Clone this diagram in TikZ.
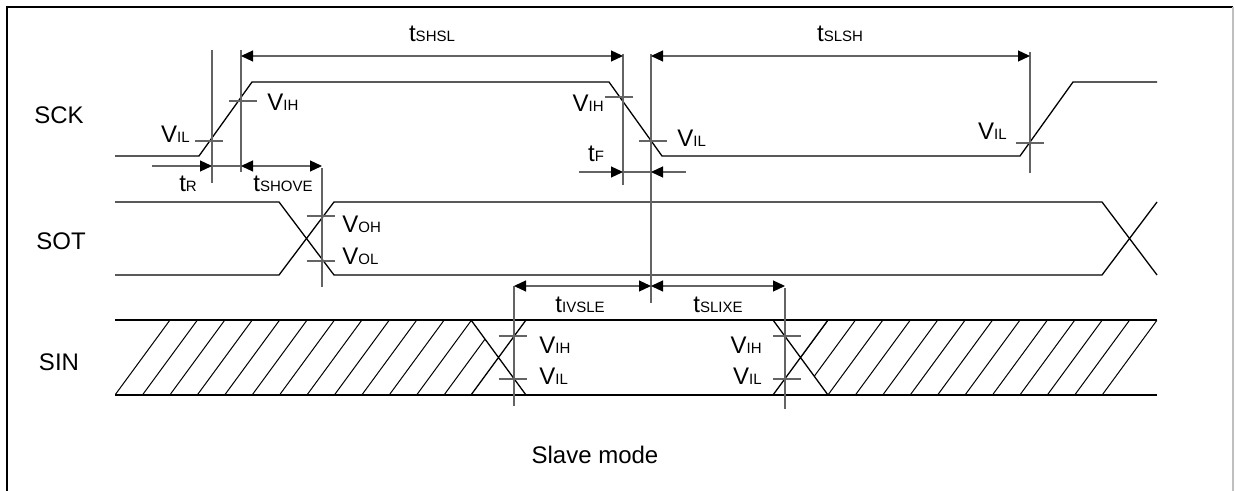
\documentclass[tikz,border=0pt]{standalone}
\usepackage{fontspec}
\setmainfont{Liberation Sans}
\usepackage{xcolor}
\usetikzlibrary{arrows.meta}
\definecolor{mkgray}{RGB}{100,100,100}
\newcommand{\lo}[1]{{\fontsize{7.5}{8}\selectfont #1}}
\newcommand{\Vs}[1]{V\lo{#1}}
\newcommand{\ts}[1]{t\lo{#1}}

\begin{document}
\begin{tikzpicture}[x=0.5pt,y=-0.5pt,font=\fontsize{12}{14}\selectfont,
    sig/.style={line width=0.65pt},
    refl/.style={mkgray,line width=0.6pt},
    dimline/.style={mkgray,line width=0.6pt},
    >={Triangle[length=6pt,width=5.5pt,black]}]
  \useasboundingbox (0,0) rectangle (1235,491);
  \draw[line width=1.3pt] (7,495) -- (7,7) -- (1233,7);
  \draw[gray!50,line width=0.6pt] (1233,7) -- (1233,495);

  \node[anchor=base] (sck) at (59,124) {SCK};
  \node[anchor=base] (sot) at (61,250) {SOT};
  \node[anchor=base] (sin) at (59,370) {SIN};

  % waveforms
  \draw[sig] (115,156) -- (199,156) -- (252,82) -- (609,82) -- (662,156) -- (1020,156) -- (1073,82) -- (1157,82);
  \draw[sig] (115,202) -- (279,202) -- (334,275) -- (1102,275) -- (1157,202);
  \draw[sig] (115,275) -- (279,275) -- (334,202) -- (1102,202) -- (1157,275);
  \draw[sig] (115,320) -- (1157,320) (115,395) -- (1157,395);
  \draw[sig] (471,320) -- (526,395) (471,395) -- (526,320) (773,320) -- (828,395) (773,395) -- (828,320);
  \begin{scope}
    \clip (115,320) -- (471,320) -- (498.5,357.5) -- (471,395) -- (115,395) -- cycle
          (828,320) -- (1157,320) -- (1157,395) -- (828,395) -- (800.5,357.5) -- cycle;
    \foreach \k in {0,...,36}
      \draw[line width=0.5pt] (115+27.42*\k,395) -- ++(55,-75);
  \end{scope}

  % reference lines and level ticks
  \foreach \x/\a/\b in {212/50/183, 241/50/172, 623/54/185, 651/54/303, 1030/52/173, 322/168/287, 514/286/406, 785/288/409}
    \draw[refl] (\x,\a) -- (\x,\b);
  \foreach \x/\y in {209/141, 243/101, 619/97, 652.5/141, 1029.5/143, 320.5/216, 320.5/261, 512.5/336, 512.5/379, 787/336, 787/379}
    \draw[refl] (\x-14,\y) -- (\x+14,\y);

  % timing arrows
  \draw[dimline,<->] (241,56) -- (623,56);
  \draw[dimline,<->] (651,56) -- (1030,56);
  \draw[dimline,->] (152,166) -- (212,166);
  \draw[dimline] (212,166) -- (241,166);
  \draw[dimline,<->] (241,166) -- (322,166);
  \draw[dimline,->] (579,172) -- (623,172);
  \draw[dimline] (623,172) -- (651,172);
  \draw[dimline,<-] (651,172) -- (686,172);
  \draw[dimline,<->] (514,286) -- (651,286);
  \draw[dimline,<->] (651,286) -- (785,286);

  \node[anchor=base] (tshsl) at (432,42) {\ts{SHSL}};
  \node[anchor=base] (tslsh) at (840,42) {\ts{SLSH}};
  \node[anchor=base] (tr) at (188,192) {\ts{R}};
  \node[anchor=base] (tshove) at (283,192) {\ts{SHOVE}};
  \node[anchor=base] (tf) at (596,162) {\ts{F}};
  \node[anchor=base] (tivsle) at (580,313) {\ts{IVSLE}};
  \node[anchor=base] (tslixe) at (718,313) {\ts{SLIXE}};

  \node[anchor=base east,inner sep=0pt] (vil1) at (190,143) {\Vs{IL}};
  \node[anchor=base west,inner sep=0pt] (vih1) at (267,111) {\Vs{IH}};
  \node[anchor=base east,inner sep=0pt] (vih2) at (604,112) {\Vs{IH}};
  \node[anchor=base west,inner sep=0pt] (vil2) at (677,147) {\Vs{IL}};
  \node[anchor=base east,inner sep=0pt] (vil3) at (1007,140) {\Vs{IL}};
  \node[anchor=base west,inner sep=0pt] (voh) at (342,233) {\Vs{OH}};
  \node[anchor=base west,inner sep=0pt] (vol) at (342,265) {\Vs{OL}};
  \node[anchor=base west,inner sep=0pt] (vih3) at (539,353) {\Vs{IH}};
  \node[anchor=base west,inner sep=0pt] (vil4) at (539,384) {\Vs{IL}};
  \node[anchor=base east,inner sep=0pt] (vih4) at (762,353) {\Vs{IH}};
  \node[anchor=base east,inner sep=0pt] (vil5) at (762,384) {\Vs{IL}};

  \node[anchor=base] (mode) at (595,463) {Slave mode};
\end{tikzpicture}
\end{document}
